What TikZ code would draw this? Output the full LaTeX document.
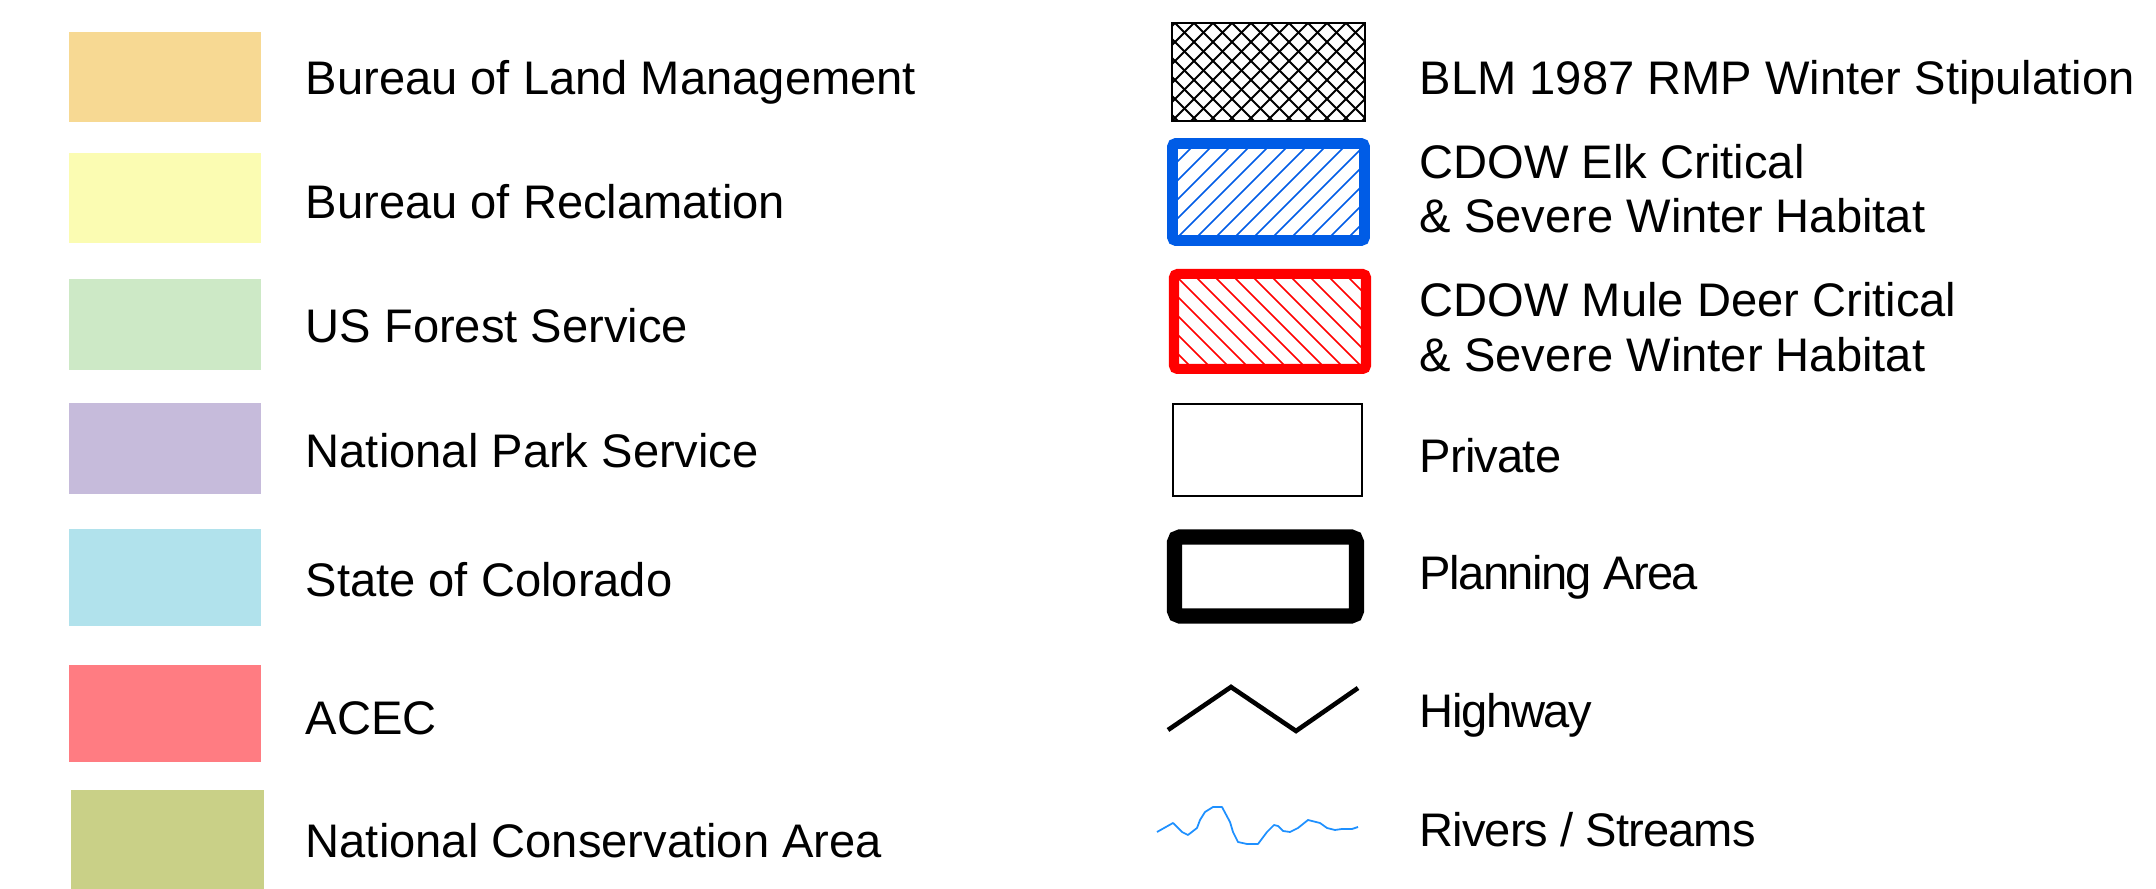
\documentclass[tikz,border=0pt]{standalone}
\usepackage{fontspec}
\setmainfont{Liberation Sans}
\definecolor{blmcol}{HTML}{F7D993}
\definecolor{borcol}{HTML}{FBFCB2}
\definecolor{usfscol}{HTML}{CDE9C6}
\definecolor{npscol}{HTML}{C6BBDB}
\definecolor{statecol}{HTML}{B1E2EC}
\definecolor{aceccol}{HTML}{FF7C82}
\definecolor{ncacol}{HTML}{C9D087}
\definecolor{elkblue}{HTML}{005CE6}
\definecolor{deerred}{HTML}{FF0000}
\definecolor{riverblue}{HTML}{1E90FF}
\begin{document}
\begin{tikzpicture}[x=0.01cm, y=-0.01cm, font=\fontsize{13.4}{16}\selectfont,
    legtext/.style={anchor=base west, inner sep=0pt},
    tight/.style={font=\fontsize{13.4}{16}\selectfont\addfontfeatures{LetterSpace=#1}}]
    \useasboundingbox (0,0) rectangle (2156,889);
    % land ownership swatches
    \foreach \col/\top/\bot/\txt/\base [count=\k] in {
        blmcol/32/122/Bureau of Land Management/95,
        borcol/153/243/Bureau of Reclamation/219,
        usfscol/279/370/US Forest Service/343,
        npscol/403/494/National Park Service/468,
        statecol/529/626/State of Colorado/597,
        aceccol/665/762/ACEC/735} {
      \fill[\col] (69,\top) rectangle (261,\bot);
      \node[legtext] (owner\k) at (305,\base) {\txt};
    }
    \fill[ncacol] (71,790) rectangle (264,889);
    \node[legtext] (nca) at (305,858) {National Conservation Area};
    % winter stipulation
    \begin{scope}
      \clip (1172,23) rectangle (1365,121);
      \foreach \x in {1042,1061,...,1460} {
        \draw[line width=0.55pt] (\x,23) -- ++(-100,100);
        \draw[line width=0.55pt] (\x,23) -- ++(100,100);
      }
    \end{scope}
    \draw[line width=0.57pt] (1172,23) rectangle (1365,121);
    \node[legtext] (stip) at (1419,95) {BLM 1987 RMP Winter Stipulation};
    % elk habitat
    \begin{scope}
      \clip (1172,143) rectangle (1365,241);
      \foreach \x in {1060,1079,...,1380}
        \draw[elkblue, line width=0.42pt] (\x,241) -- ++(100,-100);
    \end{scope}
    \draw[elkblue, line width=3.1pt, rounded corners=1pt] (1172.5,143.5) rectangle (1364.5,240.5);
    \node[legtext] (elk1) at (1419,179) {CDOW Elk Critical};
    \node[legtext] (elk2) at (1419,233) {\& Severe Winter Habitat};
    % mule deer habitat
    \begin{scope}
      \clip (1174,274) rectangle (1366,369);
      \foreach \x in {1060,1079,...,1380}
        \draw[deerred, line width=0.42pt] (\x,274) -- ++(100,100);
    \end{scope}
    \draw[deerred, line width=2.85pt, rounded corners=1pt] (1174,274) rectangle (1366,369);
    \node[legtext] (deer1) at (1419,317) {CDOW Mule Deer Critical};
    \node[legtext] (deer2) at (1419,372) {\& Severe Winter Habitat};
    % private, planning area
    \draw[line width=0.7pt] (1173,404) rectangle (1362,496);
    \node[legtext, tight=-1.8] (private) at (1419,473) {Private};
    \draw[line width=4.3pt, rounded corners=1.5pt] (1174.5,537) rectangle (1356.5,616);
    \node[legtext, tight=-3.4] (plan) at (1419,590) {Planning Area};
    % highway and rivers
    \draw[line width=1.3pt] (1168,730) -- (1231,687) -- (1296,731) -- (1358,688);
    \node[legtext, tight=-2.9] (hwy) at (1419,728) {Highway};
    \draw[riverblue, line width=0.5pt, line join=round] (1157,832) -- (1173,823) -- (1182,832)
      -- (1188,835) -- (1197,828) -- (1200,820) -- (1205,812) -- (1213,807) -- (1222,807)
      -- (1230,822) -- (1233,832) -- (1238,842) -- (1247,844) -- (1258,844) -- (1267,832)
      -- (1274,825) -- (1278,826) -- (1283,831) -- (1290,832) -- (1298,828) -- (1308,820)
      -- (1320,823) -- (1327,828) -- (1335,830) -- (1342,829) -- (1352,829) -- (1358,827);
    \node[legtext, tight=-2] (river) at (1419,847) {Rivers / Streams};
\end{tikzpicture}
\end{document}
